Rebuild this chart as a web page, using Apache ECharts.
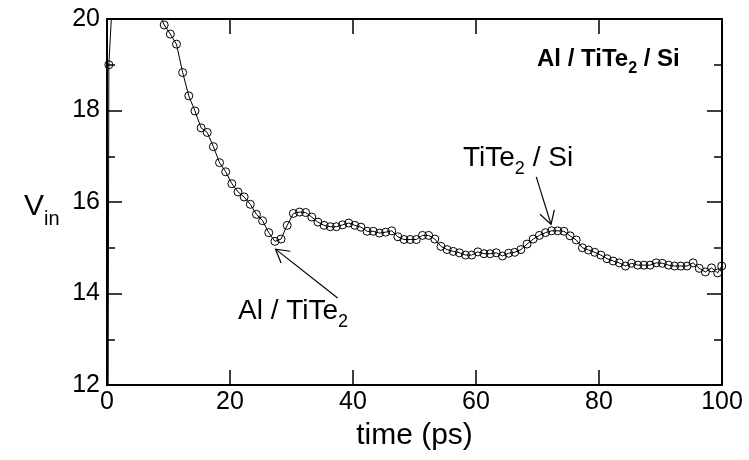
<!DOCTYPE html>
<html>
<head>
<meta charset="utf-8">
<script src="https://cdn.jsdelivr.net/npm/echarts@6/dist/echarts.min.js"></script>
<style>
html,body{margin:0;padding:0;background:#fff;}
#chart{width:749px;height:460px;}
</style>
</head>
<body>
<div id="chart"></div>
<script>
// time (ps)
const times = [0, 0.3, 1.3, 2.3, 3.3, 4.3, 5.3, 6.3, 7.3, 8.3, 9.3,
  10.3, 11.3, 12.3, 13.3, 14.3, 15.3, 16.3, 17.3, 18.3, 19.3,
  20.3, 21.3, 22.3, 23.3, 24.3, 25.3, 26.3, 27.3, 28.3, 29.3,
  30.3, 31.3, 32.3, 33.3, 34.3, 35.3, 36.3, 37.3, 38.3, 39.3,
  40.3, 41.3, 42.3, 43.3, 44.3, 45.3, 46.3, 47.3, 48.3, 49.3,
  50.3, 51.3, 52.3, 53.3, 54.3, 55.3, 56.3, 57.3, 58.3, 59.3,
  60.3, 61.3, 62.3, 63.3, 64.3, 65.3, 66.3, 67.3, 68.3, 69.3,
  70.3, 71.3, 72.3, 73.3, 74.3, 75.3, 76.3, 77.3, 78.3, 79.3,
  80.3, 81.3, 82.3, 83.3, 84.3, 85.3, 86.3, 87.3, 88.3, 89.3,
  90.3, 91.3, 92.3, 93.3, 94.3, 95.3, 96.3, 97.3, 98.3, 99.3, 99.95];
// V_in
const vin = [0, 19.0, 21.5, 22.6, 23.0, 22.8, 22.2, 21.5, 20.8, 20.15, 19.87,
  19.67, 19.45, 18.83, 18.32, 17.99, 17.62, 17.52, 17.21, 16.86, 16.66,
  16.40, 16.22, 16.11, 15.95, 15.73, 15.59, 15.33, 15.14, 15.19, 15.49,
  15.75, 15.78, 15.77, 15.67, 15.56, 15.49, 15.46, 15.46, 15.50, 15.54,
  15.49, 15.45, 15.36, 15.36, 15.32, 15.34, 15.37, 15.24, 15.18, 15.18,
  15.18, 15.27, 15.27, 15.19, 15.03, 14.96, 14.92, 14.89, 14.84, 14.84,
  14.91, 14.87, 14.87, 14.89, 14.82, 14.88, 14.90, 14.96, 15.08, 15.19,
  15.27, 15.33, 15.37, 15.37, 15.36, 15.26, 15.17, 15.00, 14.95, 14.90,
  14.84, 14.76, 14.71, 14.67, 14.60, 14.66, 14.62, 14.62, 14.62, 14.67,
  14.66, 14.62, 14.60, 14.60, 14.60, 14.67, 14.55, 14.47, 14.56, 14.45, 14.60];

const xTicks = [0, 20, 40, 60, 80, 100];
const yTicks = [12, 14, 16, 18, 20];

// annotation arrows: [tail, tip] in data coordinates
const arrowAl = [[37.5, 13.90], [27.4, 14.97]];
const arrowSi = [[69.8, 16.55], [72.2, 15.51]];

const FONT = '"Liberation Sans", Arial, Helvetica, sans-serif';

const chart = echarts.init(document.getElementById('chart'), null, {renderer: 'canvas'});

const axisCommon = {
  axisLine: {show: true, onZero: false, lineStyle: {color: '#000', width: 2}},
  splitLine: {show: false},
};

function xAxisDef(pos, showLabel) {
  return Object.assign({}, axisCommon, {
    type: 'value', position: pos, min: xTicks[0], max: xTicks[xTicks.length - 1], interval: 20,
    axisTick: {show: true, inside: true, length: 15, lineStyle: {color: '#000', width: 1.5}},
    axisLabel: {show: showLabel, fontSize: 25, color: '#000', fontFamily: FONT, margin: 5},
    name: showLabel ? 'time (ps)' : '',
    nameLocation: 'middle', nameGap: 36,
    nameTextStyle: {fontSize: 30, color: '#000', fontFamily: FONT}
  });
}
function yAxisDef(pos, showLabel) {
  return Object.assign({}, axisCommon, {
    type: 'value', position: pos, min: yTicks[0], max: yTicks[yTicks.length - 1], interval: 2,
    axisTick: {show: true, inside: true, length: 15, lineStyle: {color: '#000', width: 1.5}},
    minorTick: {show: true, splitNumber: 2, length: 8, lineStyle: {color: '#000', width: 1.5}},
    axisLabel: {show: showLabel, fontSize: 25, color: '#000', fontFamily: FONT, margin: 7}
  });
}

const subRich = function(size, subSize, bold) {
  const w = bold ? 'bold' : 'normal';
  const H = Math.round(size / 2 + 0.4 * size + subSize / 2);
  return {
    a: {fontSize: size, lineHeight: size + 2, verticalAlign: 'top', color: '#000', fontFamily: FONT, fontWeight: w},
    b: {fontSize: subSize, lineHeight: H, verticalAlign: 'bottom', color: '#000', fontFamily: FONT, fontWeight: w}
  };
};

chart.setOption({
  animation: false,
  backgroundColor: '#fff',
  grid: {left: 107, right: 27, top: 19, bottom: 75, containLabel: false},
  xAxis: [xAxisDef('bottom', true), xAxisDef('top', false)],
  yAxis: [yAxisDef('left', true), yAxisDef('right', false)],
  title: [
    {text: '{a|V}{b|in}', left: 24, top: 192, padding: 0, textStyle: {rich: subRich(30, 20, false)}},
    {text: '{a|Al / TiTe}{b|2}{a| / Si}', left: 537, top: 47, padding: 0, textStyle: {rich: subRich(24, 16, true)}},
    {text: '{a|TiTe}{b|2}{a| / Si}', left: 463, top: 144, padding: 0, textStyle: {rich: subRich(28, 18, false)}},
    {text: '{a|Al / TiTe}{b|2}', left: 238, top: 297, padding: 0, textStyle: {rich: subRich(28, 18, false)}}
  ],
  series: [{
    type: 'line',
    xAxisIndex: 0, yAxisIndex: 0,
    data: times.map((t, i) => [t, vin[i]]),
    clip: true,
    showSymbol: true,
    symbol: 'circle',
    symbolSize: 8,
    itemStyle: {color: 'rgba(0,0,0,0)', borderColor: '#000', borderWidth: 1},
    lineStyle: {color: '#000', width: 1},
    emphasis: {disabled: true}
  }]
});

function arrowGraphics(arrow) {
  const p0 = chart.convertToPixel({xAxisIndex: 0, yAxisIndex: 0}, arrow[0]);
  const p1 = chart.convertToPixel({xAxisIndex: 0, yAxisIndex: 0}, arrow[1]);
  const ang = Math.atan2(p0[1] - p1[1], p0[0] - p1[0]);
  const L = 15, h = 30 * Math.PI / 180;
  const a1 = [p1[0] + L * Math.cos(ang + h), p1[1] + L * Math.sin(ang + h)];
  const a2 = [p1[0] + L * Math.cos(ang - h), p1[1] + L * Math.sin(ang - h)];
  const st = {stroke: '#000', lineWidth: 1.2, fill: null};
  return [
    {type: 'polyline', shape: {points: [p0, p1]}, style: st, silent: true},
    {type: 'polyline', shape: {points: [a1, p1, a2]}, style: st, silent: true}
  ];
}

chart.setOption({graphic: arrowGraphics(arrowAl).concat(arrowGraphics(arrowSi))});
</script>
</body>
</html>
